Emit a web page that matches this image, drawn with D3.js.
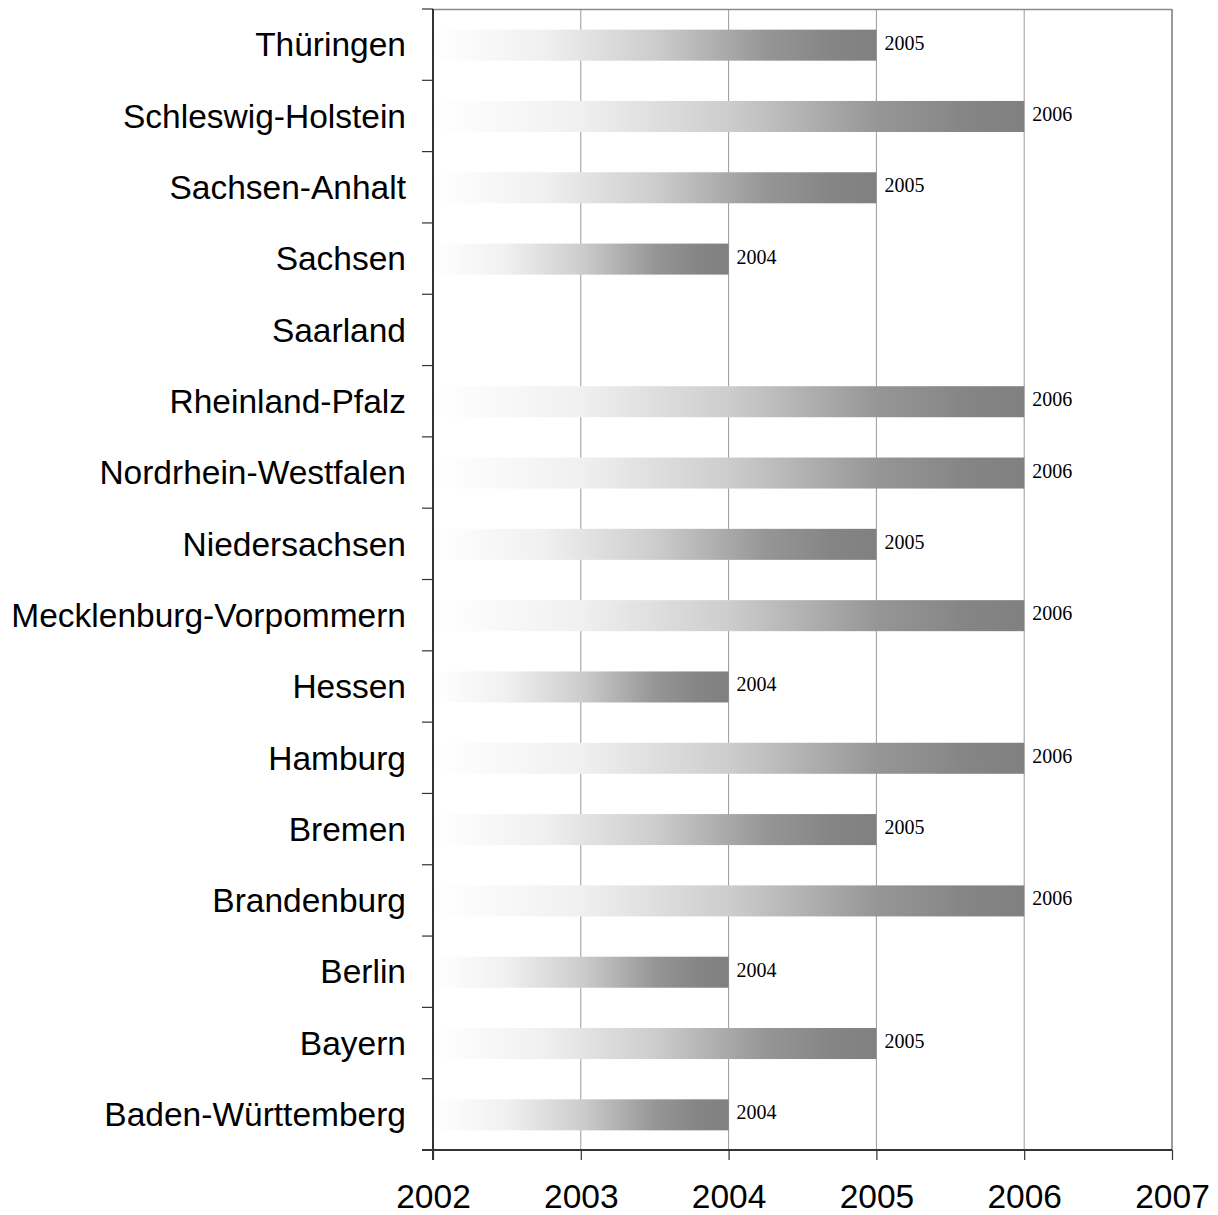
<!DOCTYPE html>
<html>
<head>
<meta charset="utf-8">
<script src="https://cdn.jsdelivr.net/npm/d3@7"></script>
<style>
  html, body { margin: 0; padding: 0; background: #fff; }
  svg { display: block; }
</style>
</head>
<body>
<div id="chart"></div>
<script>
// Bundesländer and the year each one reached the milestone (Saarland: none)
const states = [
  "Thüringen", "Schleswig-Holstein", "Sachsen-Anhalt", "Sachsen", "Saarland",
  "Rheinland-Pfalz", "Nordrhein-Westfalen", "Niedersachsen",
  "Mecklenburg-Vorpommern", "Hessen", "Hamburg", "Bremen", "Brandenburg",
  "Berlin", "Bayern", "Baden-Württemberg"
];
const years = [
  2005, 2006, 2005, 2004, null,
  2006, 2006, 2005,
  2006, 2004, 2006, 2005, 2006,
  2004, 2005, 2004
];
const xTicks = [2002, 2003, 2004, 2005, 2006, 2007];

const W = 1218, H = 1215;
const margin = { top: 9, right: 46, bottom: 65, left: 433 };
const iw = W - margin.left - margin.right;
const ih = H - margin.top - margin.bottom;

const svg = d3.select("#chart").append("svg")
  .attr("width", W).attr("height", H);

// white-to-grey fill running along each bar
const defs = svg.append("defs");
const grad = defs.append("linearGradient")
  .attr("id", "barGrad")
  .attr("x1", "0%").attr("x2", "100%").attr("y1", "0%").attr("y2", "0%");
[[0, "#ffffff"], [0.04, "#fdfdfd"], [0.25, "#f0f0f0"], [0.5, "#cdcdcd"],
 [0.75, "#969696"], [0.9, "#858585"], [1, "#808080"]]
  .forEach(([o, c]) => grad.append("stop").attr("offset", o).attr("stop-color", c));

const g = svg.append("g").attr("transform", `translate(${margin.left},${margin.top})`);

const x = d3.scaleLinear().domain([xTicks[0], xTicks[xTicks.length - 1]]).range([0, iw]);
const y = d3.scaleBand().domain(states).range([0, ih]).padding(0);
const barH = y.bandwidth() * 0.435;

// vertical gridlines
g.append("g").selectAll("line")
  .data(xTicks.slice(1))
  .join("line")
  .attr("x1", d => x(d)).attr("x2", d => x(d))
  .attr("y1", 0).attr("y2", ih)
  .attr("stroke", "#9a9a9a").attr("stroke-width", 1);

// top and right frame
g.append("line").attr("x1", 0).attr("x2", iw).attr("y1", 0.5).attr("y2", 0.5)
  .attr("stroke", "#8a8a8a").attr("stroke-width", 1.5);
g.append("line").attr("x1", iw).attr("x2", iw).attr("y1", 0).attr("y2", ih)
  .attr("stroke", "#8a8a8a").attr("stroke-width", 1.5);

// bars
const rows = states.map((s, i) => ({ state: s, year: years[i] }));
g.append("g").selectAll("rect")
  .data(rows.filter(d => d.year != null))
  .join("rect")
  .attr("x", x(xTicks[0]))
  .attr("y", d => y(d.state) + (y.bandwidth() - barH) / 2 + 0.5)
  .attr("width", d => x(d.year) - x(xTicks[0]))
  .attr("height", barH)
  .attr("fill", "url(#barGrad)");

// value labels
g.append("g").selectAll("text")
  .data(rows.filter(d => d.year != null))
  .join("text")
  .attr("x", d => x(d.year) + 8)
  .attr("y", d => y(d.state) + y.bandwidth() / 2 + 5)
  .attr("font-family", "'Liberation Serif', 'Times New Roman', serif")
  .attr("font-size", 20)
  .attr("fill", "#000")
  .text(d => d.year);

// x axis
const xAxis = g.append("g")
  .attr("transform", `translate(0,${ih})`)
  .call(d3.axisBottom(x).tickValues(xTicks).tickFormat(d3.format("d"))
    .tickSizeInner(10).tickSizeOuter(0).tickPadding(24));
xAxis.select(".domain").attr("stroke", "#333").attr("stroke-width", 2)
  .attr("d", `M-11,0H${iw}`);
xAxis.selectAll(".tick line").attr("stroke", "#333").attr("stroke-width", 1.2);
xAxis.selectAll(".tick text")
  .attr("font-family", "'Liberation Sans', Arial, sans-serif")
  .attr("font-size", 33.5).attr("fill", "#000");

// y axis: ticks at category boundaries, labels at band centres
const yAxisG = g.append("g");
yAxisG.append("line").attr("x1", 0).attr("x2", 0).attr("y1", 0).attr("y2", ih + 10)
  .attr("stroke", "#333").attr("stroke-width", 2);
const bounds = states.map(s => y(s));
yAxisG.selectAll("line.tk")
  .data(bounds)
  .join("line").attr("class", "tk")
  .attr("x1", -11).attr("x2", 0)
  .attr("y1", d => d).attr("y2", d => d)
  .attr("stroke", "#333").attr("stroke-width", 1.2);
yAxisG.selectAll("text")
  .data(states)
  .join("text")
  .attr("x", -27)
  .attr("y", d => y(d) + y.bandwidth() / 2)
  .attr("dy", "0.35em")
  .attr("text-anchor", "end")
  .attr("font-family", "'Liberation Sans', Arial, sans-serif")
  .attr("font-size", 33.5)
  .attr("fill", "#000")
  .text(d => d);
</script>
</body>
</html>
